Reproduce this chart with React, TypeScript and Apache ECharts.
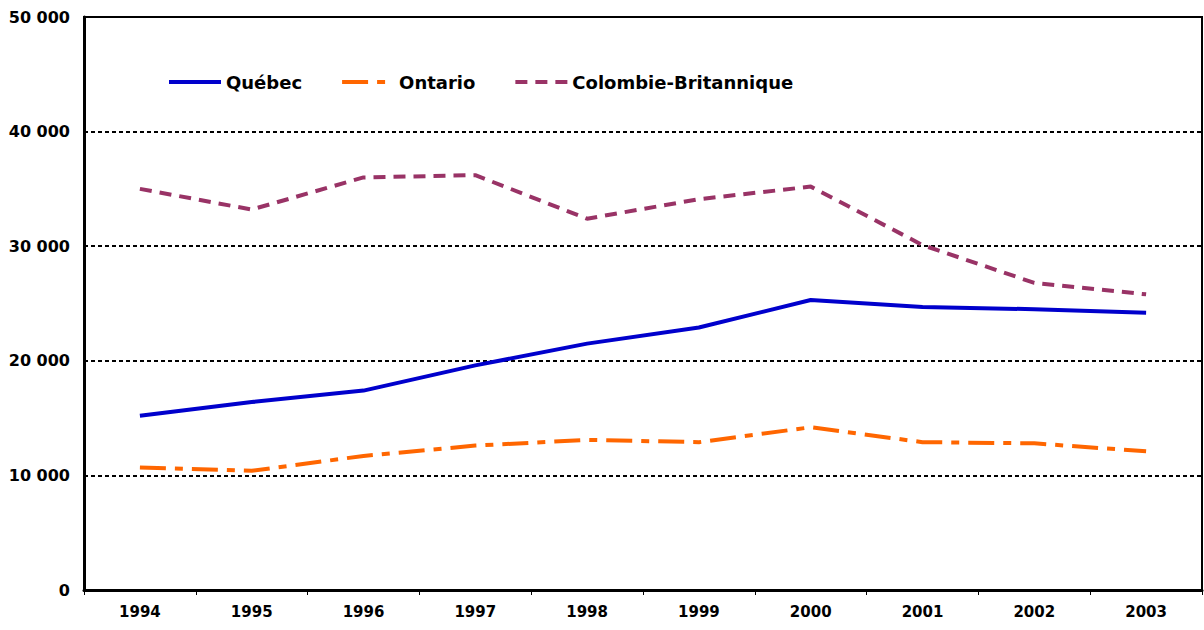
import React, { useEffect, useRef } from "react";
import * as echarts from "echarts";

const years = ["1994", "1995", "1996", "1997", "1998", "1999", "2000", "2001", "2002", "2003"];
const quebec = [15200, 16400, 17400, 19600, 21500, 22900, 25300, 24700, 24500, 24200];
const ontario = [10700, 10400, 11700, 12600, 13100, 12900, 14200, 12900, 12800, 12100];
const colombie = [35000, 33200, 36000, 36200, 32400, 34100, 35200, 30100, 26800, 25800];
const seriesNames = ["Québec", "Ontario", "Colombie-Britannique"];

const FONT = "DejaVu Sans";

export default function App() {
  const ref = useRef<HTMLDivElement>(null);
  useEffect(() => {
    if (!ref.current) return;
    const chart = echarts.init(ref.current, null, { renderer: "svg" });
    chart.setOption({
      animation: false,
      backgroundColor: "#ffffff",
      grid: {
        left: 84,
        right: 2,
        top: 17,
        bottom: 40,
        show: true,
        borderColor: "#000",
        borderWidth: 2,
      },
      legend: {
        left: 162,
        top: 68,
        itemWidth: 52,
        itemHeight: 14,
        itemGap: 38,
        itemStyle: { opacity: 0, borderWidth: 0 },
        lineStyle: { width: 4 },
        textStyle: { fontFamily: FONT, fontWeight: "bold", fontSize: 18, color: "#000" },
        data: seriesNames,
      },
      xAxis: {
        type: "category",
        data: years,
        boundaryGap: true,
        axisLine: { show: true, lineStyle: { color: "#000", width: 3 } },
        axisTick: { show: true, length: 5, lineStyle: { color: "#000", width: 1 } },
        axisLabel: { fontFamily: FONT, fontWeight: "bold", fontSize: 15, color: "#000", margin: 14 },
        splitLine: { show: false },
      },
      yAxis: {
        type: "value",
        min: 0,
        max: 50000,
        interval: 10000,
        axisLine: { show: true, lineStyle: { color: "#000", width: 3 } },
        axisTick: { show: false },
        axisLabel: {
          fontFamily: FONT,
          fontWeight: "bold",
          fontSize: 16,
          color: "#000",
          margin: 14,
          formatter: (v: number) => String(v).replace(/\B(?=(\d{3})+(?!\d))/g, " "),
        },
        splitLine: { show: true, lineStyle: { color: "#000", width: 2, type: [4, 3] } },
      },
      series: [
        {
          name: seriesNames[0],
          type: "line",
          data: quebec,
          symbol: "none",
          color: "#0000CC",
          lineStyle: { color: "#0000CC", width: 4, type: "solid" },
        },
        {
          name: seriesNames[1],
          type: "line",
          data: ontario,
          symbol: "none",
          color: "#FF6600",
          lineStyle: { color: "#FF6600", width: 4, type: [26, 9, 8, 9] },
        },
        {
          name: seriesNames[2],
          type: "line",
          data: colombie,
          symbol: "none",
          color: "#993366",
          lineStyle: { color: "#993366", width: 4, type: [12, 8] },
        },
      ],
    });
    return () => chart.dispose();
  }, []);
  return (
    <div
      ref={ref}
      style={{ position: "fixed", left: 0, top: 0, width: 1204, height: 630, background: "#fff" }}
    />
  );
}
